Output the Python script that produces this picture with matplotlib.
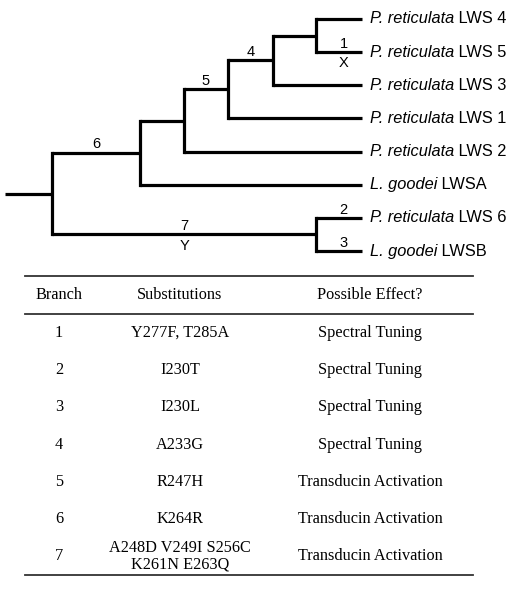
import matplotlib
matplotlib.use("Agg")
import matplotlib.pyplot as plt

# tips, top to bottom: (italic species, gene)
tip_species = ["P. reticulata", "P. reticulata", "P. reticulata", "P. reticulata",
               "P. reticulata", "L. goodei", "P. reticulata", "L. goodei"]
tip_genes = ["LWS 4", "LWS 5", "LWS 3", "LWS 1", "LWS 2", "LWSA", "LWS 6", "LWSB"]
tip_depth = 310

# internal nodes: name -> (depth, children); children are node names or tip indices
nodes = {
    "root": (0, ["n6", "n7"]),
    "n6": (88, ["n5", 5]),
    "n5": (132, ["n4", 4]),
    "n4": (176, ["n1", 3]),
    "n1": (221, ["n45", 2]),
    "n45": (264, [0, 1]),
    "n7": (264, [6, 7]),
}
root_stem = -47

# branch labels: child -> (above, below)
branch_labels = {
    "n6": ("6", ""),
    "n4": ("5", ""),
    "n1": ("4", ""),
    1: ("1", "X"),
    "n7": ("7", "Y"),
    6: ("2", ""),
    7: ("3", ""),
}

# table
col_headers = ["Branch", "Substitutions", "Possible Effect?"]
branches = ["1", "2", "3", "4", "5", "6", "7"]
substitutions = ["Y277F, T285A", "I230T", "I230L", "A233G", "R247H", "K264R",
                 "A248D V249I S256C\nK261N E263Q"]
effects = ["Spectral Tuning", "Spectral Tuning", "Spectral Tuning", "Spectral Tuning",
           "Transducin Activation", "Transducin Activation", "Transducin Activation"]

fig = plt.figure(figsize=(5.21, 6.0), dpi=100)

# ---- tree ----
ax = fig.add_axes([0, 0.55, 1, 0.45])
ax.set_xlim(-52, 469)
ax.set_ylim(7.572, -0.573)
ax.axis("off")

lw = 2.3
sans = "Liberation Sans"


def node_y(n):
    if isinstance(n, int):
        return n
    ys = [node_y(c) for c in nodes[n][1]]
    return (min(ys) + max(ys)) / 2


def node_x(n):
    return tip_depth if isinstance(n, int) else nodes[n][0]


def label_branch(child, x0, x1, y):
    if child not in branch_labels:
        return
    above, below = branch_labels[child]
    xm = x0 + (x1 - x0) * (0.6 if isinstance(child, int) else 0.5)
    if above:
        ax.annotate(above, (xm, y), xytext=(0, 1), textcoords="offset points",
                    ha="center", va="bottom", fontsize=10.5, family=sans)
    if below:
        ax.annotate(below, (xm, y), xytext=(0, -3), textcoords="offset points",
                    ha="center", va="top", fontsize=10.5, family=sans)


for name, (depth, children) in nodes.items():
    ys = [node_y(c) for c in children]
    ax.plot([depth, depth], [min(ys), max(ys)], color="black", lw=lw,
            solid_capstyle="projecting")
    for c in children:
        cy = node_y(c)
        ax.plot([depth, node_x(c)], [cy, cy], color="black", lw=lw,
                solid_capstyle="butt")
        label_branch(c, depth, node_x(c), cy)

ry = node_y("root")
ax.plot([root_stem, 0], [ry, ry], color="black", lw=lw, solid_capstyle="butt")

for i, (sp, g) in enumerate(zip(tip_species, tip_genes)):
    t = ax.text(tip_depth + 8, i, sp, style="italic", fontsize=11.8, family=sans,
                ha="left", va="center")
    ax.annotate(" " + g, xy=(1, 0), xycoords=t, ha="left", va="bottom",
                fontsize=11.8, family=sans)

# ---- table ----
tb = fig.add_axes([0, 0, 1, 0.55])
tb.set_xlim(0, 521)
tb.set_ylim(330, 0)
tb.axis("off")

serif = "Liberation Serif"
fs = 11.7
col_x = [59, 180, 370]
line_c = "#333333"
tb.plot([25, 473], [6, 6], color=line_c, lw=1.3)
tb.plot([25, 473], [44, 44], color=line_c, lw=1.3)
tb.plot([25, 473], [305, 305], color=line_c, lw=1.3)

for x, h in zip(col_x, col_headers):
    tb.text(x, 25, h, ha="center", va="center", fontsize=fs, family=serif)

for i, (b, s, e) in enumerate(zip(branches, substitutions, effects)):
    y = 63 + 37.2 * i
    tb.text(col_x[0], y, b, ha="center", va="center", fontsize=fs, family=serif)
    tb.text(col_x[1], y, s, ha="center", va="center", fontsize=fs, family=serif,
            linespacing=1.05)
    tb.text(col_x[2], y, e, ha="center", va="center", fontsize=fs, family=serif)

fig.savefig("out.png", dpi=100, facecolor="white")
